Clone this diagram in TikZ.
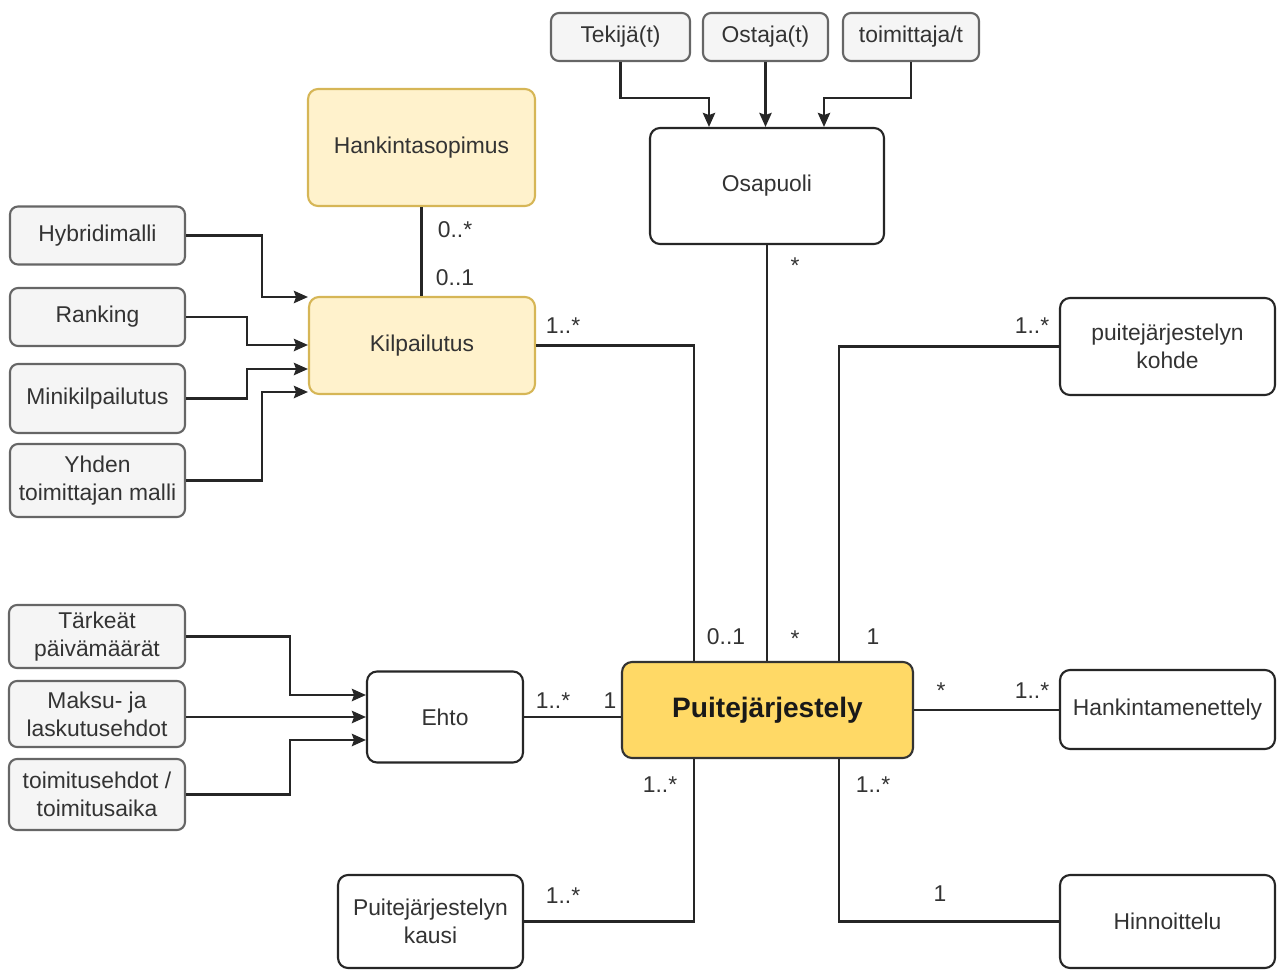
\documentclass[tikz,border=0pt]{standalone}
\usepackage{fontspec}
\setmainfont{Liberation Sans}
\usetikzlibrary{arrows.meta}
\definecolor{grayfill}{HTML}{F5F5F5}
\definecolor{graystroke}{HTML}{666666}
\definecolor{txt}{HTML}{333333}
\definecolor{lightyel}{HTML}{FFF2CC}
\definecolor{yelstroke}{HTML}{D6B656}
\definecolor{strongyel}{HTML}{FFD966}
\begin{document}
\begin{tikzpicture}[x=0.02cm,y=-0.02cm,
  base/.style={rounded corners=0.2cm, inner sep=0pt, align=center,
    font=\fontsize{13}{16}\selectfont, text=txt, line width=1.2pt},
  graybox/.style={base, draw=graystroke, fill=grayfill, rounded corners=0.16cm},
  whitebox/.style={base, draw=black!85, fill=white},
  yelbox/.style={base, draw=yelstroke, fill=lightyel},
  mainbox/.style={base, draw=black!80, fill=strongyel,
    font=\fontsize{16}{19}\selectfont\bfseries, text=black!90},
  link/.style={draw=black!85, line width=1.35pt},
  arr/.style={link, -{Stealth[length=8pt,width=7pt,inset=1.2pt]}},
  mult/.style={font=\fontsize{13}{15}\selectfont, text=txt, inner sep=0pt}]
\useasboundingbox (0,0) rectangle (1279,970);

% parties
\node[graybox, minimum width=2.78cm, minimum height=0.96cm] (tek) at (620.5,37) {Tekijä(t)};
\node[graybox, minimum width=2.50cm, minimum height=0.96cm] (ost) at (765.5,37) {Ostaja(t)};
\node[graybox, minimum width=2.72cm, minimum height=0.96cm] (toi) at (911,37) {toimittaja/t};
\node[whitebox, minimum width=4.68cm, minimum height=2.32cm] (osa) at (767,186) {Osapuoli};

% tendering
\node[yelbox, minimum width=4.54cm, minimum height=2.34cm] (han) at (421.5,147.5) {Hankintasopimus};
\node[yelbox, minimum width=4.52cm, minimum height=1.94cm] (kil) at (422,345.5) {Kilpailutus};
\node[graybox, minimum width=3.50cm, minimum height=1.16cm] (hyb) at (97.5,235.5) {Hybridimalli};
\node[graybox, minimum width=3.50cm, minimum height=1.16cm] (ran) at (97.5,317) {Ranking};
\node[graybox, minimum width=3.50cm, minimum height=1.38cm] (min) at (97.5,398.5) {Minikilpailutus};
\node[graybox, minimum width=3.50cm, minimum height=1.46cm] (yhd) at (97.5,480.5) {Yhden\\toimittajan malli};

% terms
\node[graybox, minimum width=3.52cm, minimum height=1.26cm] (tar) at (97,636.5) {Tärkeät\\päivämäärät};
\node[graybox, minimum width=3.52cm, minimum height=1.32cm] (mak) at (97,714) {Maksu- ja\\laskutusehdot};
\node[graybox, minimum width=3.52cm, minimum height=1.42cm] (tmt) at (97,794.5) {toimitusehdot /\\toimitusaika};
\node[whitebox, minimum width=3.12cm, minimum height=1.82cm] (eht) at (445,717) {Ehto};

% framework agreement and its parts
\node[mainbox, minimum width=5.82cm, minimum height=1.92cm] (pui) at (767.5,710) {Puitejärjestely};
\node[whitebox, minimum width=4.30cm, minimum height=1.94cm] (koh) at (1167.5,346.5) {puitejärjestelyn\\kohde};
\node[whitebox, minimum width=4.30cm, minimum height=1.58cm] (hme) at (1167.5,709.5) {Hankintamenettely};
\node[whitebox, minimum width=4.30cm, minimum height=1.86cm] (hin) at (1167.5,921.5) {Hinnoittelu};
\node[whitebox, minimum width=3.70cm, minimum height=1.86cm] (kau) at (430.5,921.5) {Puitejärjestelyn\\kausi};

% arrows into Osapuoli
\draw[arr] (tek.south) |- (709,98) -- (osa.north -| 709,98);
\draw[arr] (ost.south) -- (ost.south |- osa.north);
\draw[arr] (toi.south) |- (824,98) -- (osa.north -| 824,98);

% arrows into Kilpailutus
\draw[link] (han.south) -- (han.south |- kil.north);
\draw[arr] (hyb.east) -| (262,297) -- (kil.west |- 262,297);
\draw[arr] (ran.east) -| (247,345) -- (kil.west |- 247,345);
\draw[arr] (min.east) -| (247,369) -- (kil.west |- 247,369);
\draw[arr] (yhd.east) -| (262,392) -- (kil.west |- 262,392);

% arrows into Ehto
\draw[arr] (tar.east) -| (290,695) -- (eht.west |- 290,695);
\draw[arr] (mak.east |- eht.west) -- (eht.west);
\draw[arr] (tmt.east) -| (290,740) -- (eht.west |- 290,740);

% associations of Puitejärjestely
\draw[link] (eht.east) -- (pui.west |- eht.east);
\draw[link] (kil.east) -| (pui.north -| 694,0);
\draw[link] (osa.south) -- (osa.south |- pui.north);
\draw[link] (koh.west) -| (pui.north -| 839,0);
\draw[link] (pui.east) -- (hme.west |- pui.east);
\draw[link] (pui.south -| 839,0) |- (hin.west);
\draw[link] (pui.south -| 694,0) |- (kau.east);

% multiplicities
\node[mult] (m1) at (455,230) {0..*};
\node[mult] (m2) at (455,278) {0..1};
\node[mult] (m3) at (563,326) {1..*};
\node[mult] (m4) at (795,266) {*};
\node[mult] (m5) at (1032,326) {1..*};
\node[mult] (m6) at (726,637) {0..1};
\node[mult] (m7) at (795,639) {*};
\node[mult] (m8) at (873,637) {1};
\node[mult] (m9) at (553,701) {1..*};
\node[mult] (m10) at (610,701) {1};
\node[mult] (m11) at (941,691) {*};
\node[mult] (m12) at (1032,691) {1..*};
\node[mult] (m13) at (660,785) {1..*};
\node[mult] (m14) at (873,785) {1..*};
\node[mult] (m15) at (563,896) {1..*};
\node[mult] (m16) at (940,894) {1};
\end{tikzpicture}
\end{document}
